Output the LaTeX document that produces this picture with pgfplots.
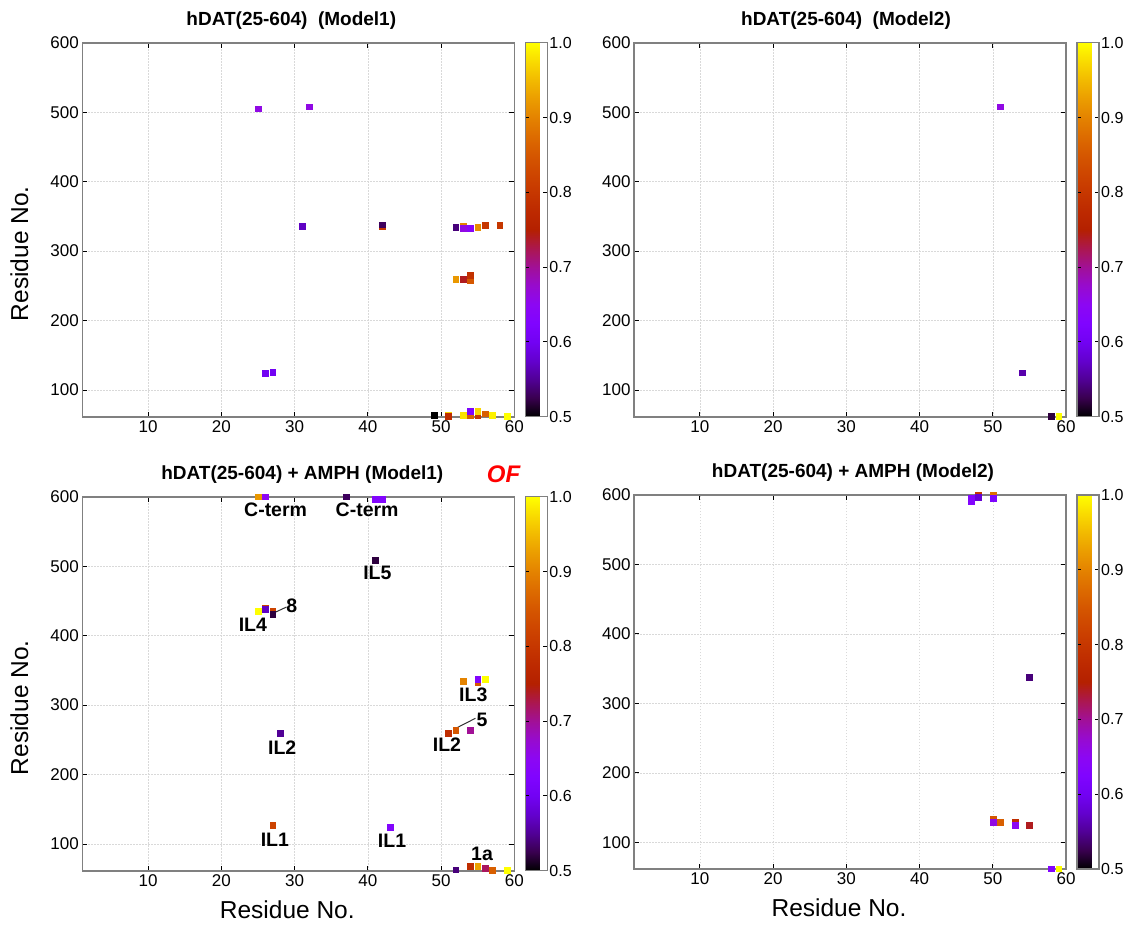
\documentclass[border=0pt]{standalone}
\usepackage{pgfplots}
\pgfplotsset{compat=1.18}
\usepackage{fontspec}
\setmainfont{Liberation Sans}

\tikzset{ann/.style={font=\bfseries\fontsize{19.5pt}{21pt}\selectfont}}

% gnuplot-style palette (rgbformulae 7,5,15), sampled every 0.05
\pgfplotsset{
  colormap={gp}{
    rgb255=(0,0,0) rgb255=(57,0,79) rgb255=(81,0,150) rgb255=(99,1,206)
    rgb255=(114,2,243) rgb255=(128,4,255) rgb255=(140,7,243) rgb255=(151,11,206)
    rgb255=(161,16,150) rgb255=(171,23,79) rgb255=(180,32,0) rgb255=(189,42,0)
    rgb255=(198,55,0) rgb255=(206,70,0) rgb255=(213,87,0) rgb255=(221,108,0)
    rgb255=(228,131,0) rgb255=(235,157,0) rgb255=(242,186,0) rgb255=(249,219,0)
    rgb255=(255,255,0)},
  panel/.style={
    scale only axis, width=432pt, height=374pt,
    xmin=1, xmax=60, ymin=61.5, ymax=600,
    xtick={10,20,30,40,50,60}, ytick={100,200,300,400,500,600},
    grid=major,
    major grid style={black!15, dash pattern=on 1.5pt off 1.5pt, line width=0.5pt},
    axis line style={black!50, line width=1.6pt},
    tick align=inside, major tick length=5pt,
    tick style={black, line width=0.9pt},
    /pgf/number format/assume math mode=true,
    tick label style={font=\fontsize{17pt}{19pt}\selectfont},
    every axis title/.style={font=\bfseries\fontsize{19pt}{21pt}\selectfont,
      at={(axis description cs:0.5,1)}, anchor=center, yshift=22pt},
    every axis y label/.style={at={(axis description cs:0,0.5)}, rotate=90,
      anchor=center, yshift=63pt, xshift=-24pt,
      font=\fontsize{24.5pt}{26pt}\selectfont},
    every axis x label/.style={at={(axis description cs:0.5,0)},
      anchor=center, yshift=-39pt, xshift=-11pt,
      font=\fontsize{24.5pt}{26pt}\selectfont},
    clip=false,
    colormap name=gp, point meta min=0.5, point meta max=1,
    colorbar,
    colorbar style={
      at={(parent axis.north east)}, anchor=north west, xshift=2.6pt,
      width=22pt, grid=none,
      ytick={0.5,0.6,0.7,0.8,0.9,1.0},
      axis line style={black!50, line width=1.4pt},
      tick align=inside, major tick length=4pt,
      tick style={black, line width=0.9pt},
      /pgf/number format/assume math mode=true,
      yticklabel style={font=\fontsize{16pt}{18pt}\selectfont,
        xshift=-1.5pt,
        /pgf/number format/.cd, fixed, fixed zerofill, precision=1},
    },
  },
  pts/.style={scatter, only marks, mark=square*, mark size=2.9pt,
    point meta=explicit,
    scatter/use mapped color={draw=mapped color, fill=mapped color},
    mark options={line width=0.3pt}},
}

\begin{document}
\begin{tikzpicture}
\path[use as bounding box] (0,0) rectangle (1126pt,-924pt);

% ---------------- hDAT, Model 1 ----------------
\begin{axis}[panel, at={(82.3pt,-42.7pt)}, anchor=north west,
  title={hDAT(25-604)\ \ (Model1)}, title style={xshift=-7pt},
  ylabel={Residue No.}]
\addplot[pts] table[meta=c] {
x y c
25 505 0.66
32 508 0.66
31 336 0.57
42 336 0.80
42 338 0.53
26 124 0.60
27 126 0.60
52 334 0.54
53 336 0.90
53 333 0.66
54 333 0.64
55 335 0.91
56 337 0.80
58 337 0.80
52 260 0.92
53 260 0.74
54 258 0.85
54 265 0.79
49 64 0.50
51 64 0.97
51 62 0.78
53 64 0.98
54 64 0.86
54 70 0.62
55 64 0.80
55 69 0.97
56 66 0.86
57 64 0.99
59 62 1.00
};
\end{axis}

% ---------------- hDAT, Model 2 ----------------
\begin{axis}[panel, at={(634pt,-42.7pt)}, anchor=north west,
  title={hDAT(25-604)\ \ (Model2)}, title style={xshift=-4pt}]
\addplot[pts] table[meta=c] {
x y c
51 508 0.66
54 125 0.56
58 62 0.52
59 62 1.00
};
\end{axis}

% ---------------- hDAT + AMPH, Model 1 ----------------
\begin{axis}[panel, at={(82.3pt,-496.7pt)}, anchor=north west,
  title={hDAT(25-604) + AMPH (Model1)}, title style={xshift=4pt},
  xlabel={Residue No.}, ylabel={Residue No.}]
\addplot[pts] table[meta=c] {
x y c
25 600 0.92
26 600 0.65
37 600 0.53
41 596 0.63
42 596 0.63
41 509 0.52
25 435 1.00
26 440 0.82
26 438 0.57
27 435 0.82
27 431 0.52
28 259 0.55
53 334 0.90
55 333 0.85
55 337 0.63
56 337 1.00
51 260 0.78
52 264 0.85
54 264 0.70
27 127 0.82
43 124 0.63
52 63 0.54
54 68 0.78
55 68 0.93
56 65 0.72
57 62 0.86
59 62 1.00
};
\node[ann] at (axis cs:27.4,581) {C-term};
\node[ann] at (axis cs:39.9,581) {C-term};
\node[ann] at (axis cs:41.3,490) {IL5};
\node[ann] at (axis cs:24.3,416) {IL4};
\draw[line width=1pt, black!80] (axis cs:27.1,432.4) -- (axis cs:28.9,441.2);
\node[ann] at (axis cs:29.6,443) {8};
\node[ann] at (axis cs:54.4,315) {IL3};
\draw[line width=1pt, black!80] (axis cs:52.1,267) -- (axis cs:54.7,281);
\node[ann] at (axis cs:55.6,278) {5};
\node[ann] at (axis cs:50.8,243) {IL2};
\node[ann] at (axis cs:28.3,238) {IL2};
\node[ann] at (axis cs:27.3,106) {IL1};
\node[ann] at (axis cs:43.3,105) {IL1};
\node[ann] at (axis cs:55.6,86) {1a};
\node[text=red, font=\bfseries\itshape\fontsize{24pt}{26pt}\selectfont]
  at (rel axis cs:0.975,1.06) {OF};
\end{axis}

% ---------------- hDAT + AMPH, Model 2 ----------------
\begin{axis}[panel, at={(634pt,-495pt)}, anchor=north west,
  title={hDAT(25-604) + AMPH (Model2)}, title style={xshift=3pt},
  xlabel={Residue No.}]
\addplot[pts] table[meta=c] {
x y c
47 596 0.63
47 591 0.63
48 600 0.80
48 597 0.58
50 600 0.88
50 596 0.62
55 338 0.54
50 133 0.85
50 129 0.66
51 129 0.86
53 129 0.78
53 125 0.65
55 125 0.74
58 62 0.63
59 62 1.00
};
\end{axis}
\end{tikzpicture}
\end{document}
